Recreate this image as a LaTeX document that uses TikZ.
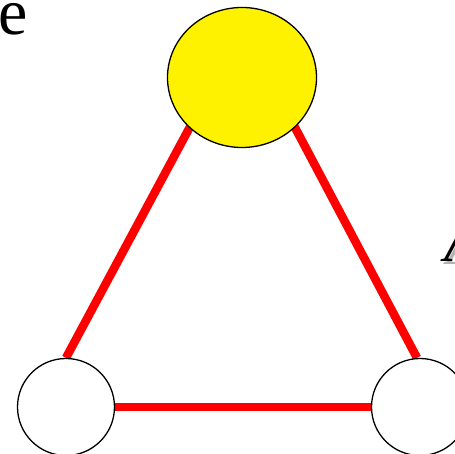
\documentclass[tikz,border=0pt]{standalone}
\usepackage{fontspec}
\setmainfont{Liberation Serif}
\usetikzlibrary{shapes.geometric,backgrounds,calc}
\begin{document}
\begin{tikzpicture}[x=1pt,y=1pt,
  vertex/.style={circle,draw=black,line width=1.3pt,fill=white,minimum size=97pt,inner sep=0pt},
  topvertex/.style={ellipse,draw=black,line width=1.3pt,fill=yellow,minimum width=149pt,minimum height=140pt,inner sep=0pt},
  edge/.style={draw=red,line width=8.5pt},
  bigtext/.style={inner sep=0pt,font=\fontsize{66}{70}\selectfont}]
\useasboundingbox (0,0) rectangle (455,454);
\node[topvertex] (top) at (242,376.5) {};
\node[vertex] (bl) at (66,47) {};
\node[vertex] (br) at (420,47) {};
\coordinate (tl) at ($(top.center)+(-25.5,0)$);
\coordinate (tr) at ($(top.center)+(26.5,0)$);
\begin{scope}[on background layer]
\draw[edge] (bl.north) -- (tl);
\draw[edge] ($(br.north)+(-3,0)$) -- (tr);
\draw[edge] (bl.east) -- (br.west);
\end{scope}
\node[bigtext,anchor=base west] (e) at (-1.6,419) {e};
\node[bigtext,anchor=base west,text=black!30] (ashadow) at (447,189.5) {\itshape A};
\node[bigtext,anchor=base west] (a) at (444.5,192) {\itshape A};
\end{tikzpicture}
\end{document}
